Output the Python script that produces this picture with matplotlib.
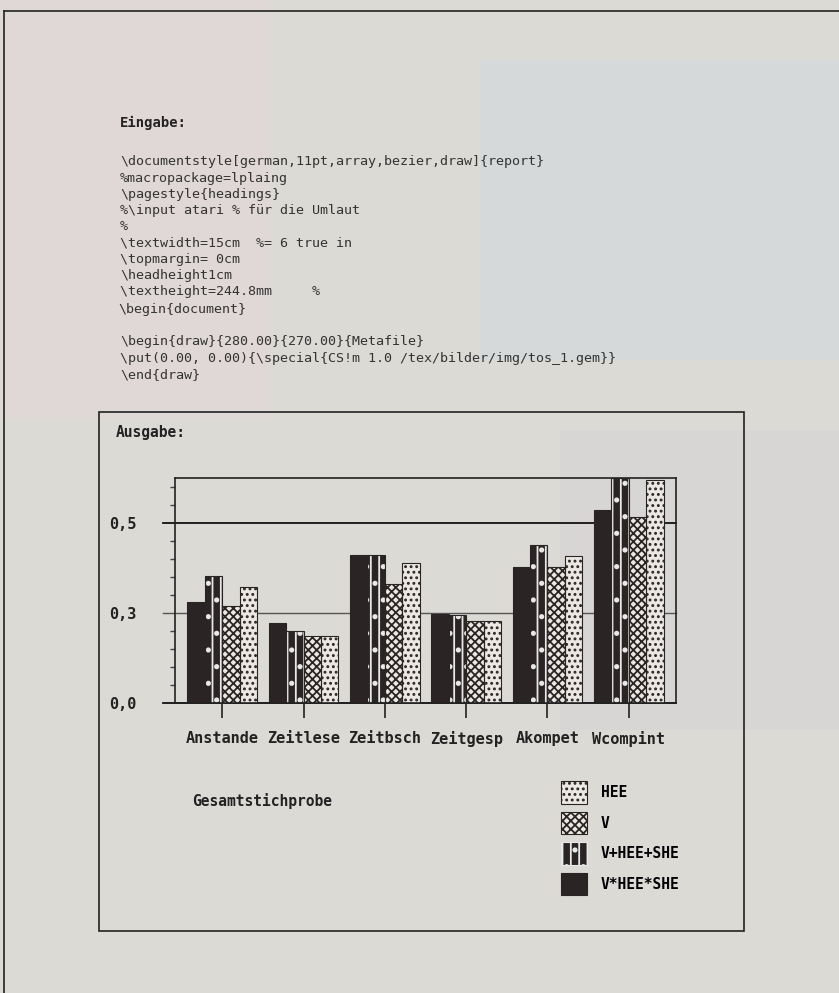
import matplotlib.pyplot as plt
import matplotlib.patches as mpatches
import numpy as np

plt.rcParams['hatch.linewidth'] = 1.3

# Daten
kategorien = ['Anstande', 'Zeitlese', 'Zeitbsch', 'Zeitgesp', 'Akompet', 'Wcompint']
v_hee_she_prod = [0.325, 0.277, 0.428, 0.298, 0.403, 0.529]   # V*HEE*SHE
v_hee_she_sum = [0.382, 0.260, 0.428, 0.296, 0.451, 0.600]    # V+HEE+SHE
v_werte = [0.316, 0.250, 0.364, 0.282, 0.403, 0.513]          # V
hee_werte = [0.357, 0.250, 0.412, 0.282, 0.427, 0.596]        # HEE
serien_namen = ['V*HEE*SHE', 'V+HEE+SHE', 'V', 'HEE']

y_ticks = [0.1, 0.3, 0.5]
y_labels = ['0,0', '0,3', '0,5']

code_zeilen = [
    r'\documentstyle[german,11pt,array,bezier,draw]{report}',
    r'%macropackage=lplaing',
    r'\pagestyle{headings}',
    r'%\input atari % für die Umlaut',
    r'%',
    r'\textwidth=15cm  %= 6 true in',
    r'\topmargin= 0cm',
    r'\headheight1cm',
    r'\textheight=244.8mm     %',
]
code_zeilen2 = [
    r'\begin{draw}{280.00}{270.00}{Metafile}',
    r'\put(0.00, 0.00){\special{CS!m 1.0 /tex/bilder/img/tos_1.gem}}',
    r'\end{draw}',
]

W, H = 839, 993
dunkel = '#2b2424'
hell = '#ebe8e3'
mono = 'DejaVu Sans Mono'

fig = plt.figure(figsize=(W / 100, H / 100), dpi=100)
fig.patch.set_facecolor('#dcdad5')

# Seite (Pixelkoordinaten)
page = fig.add_axes([0, 0, 1, 1])
page.set_xlim(0, W)
page.set_ylim(H, 0)
page.axis('off')
page.add_patch(mpatches.Rectangle((0, 0), 270, 420, color='#e4d8d8', alpha=0.6, lw=0))
page.add_patch(mpatches.Rectangle((480, 60), 359, 300, color='#d2d9df', alpha=0.6, lw=0))
page.add_patch(mpatches.Rectangle((560, 430), 279, 300, color='#d6d3d6', alpha=0.5, lw=0))
page.plot([4, W], [11, 11], color='#222', lw=1.2)
page.plot([4, 4], [11, H], color='#222', lw=1.2)
page.add_patch(mpatches.Rectangle((99, 412), 645, 519, fill=False, ec='#222', lw=1.2))

page.text(120, 123, 'Eingabe:', family=mono, weight='bold', fontsize=10, va='center', color='#222')
for i, z in enumerate(code_zeilen):
    page.text(120, 162 + i * 16.2, z, family=mono, fontsize=9.6, va='center', color='#333')
page.text(118, 310, r'\begin{document}', family=mono, fontsize=9.6, va='center', color='#333')
for i, z in enumerate(code_zeilen2):
    page.text(120, 342 + i * 16.2, z, family=mono, fontsize=9.6, va='center', color='#333')

page.text(116, 433, 'Ausgabe:', family=mono, weight='bold', fontsize=10.5, va='center', color='#222')
page.text(192, 801, 'Gesamtstichprobe', family=mono, weight='bold', fontsize=10.5, va='center', color='#222')

# Diagramm
ax = fig.add_axes([175 / W, 1 - 703 / H, 501 / W, 225 / H])
ax.patch.set_alpha(0)
x = np.arange(len(kategorien))
w = 0.215

ax.axhline(0.5, xmin=-0.024, xmax=1, color='#111', lw=1.3, clip_on=False, zorder=1)
ax.axhline(0.3, xmin=-0.024, xmax=1, color='#555', lw=1.0, clip_on=False, zorder=1)
ax.axhline(0.1, xmin=-0.024, xmax=1, color='#111', lw=1.3, clip_on=False, zorder=1)

b1 = ax.bar(x - 1.5 * w, v_hee_she_prod, w, color=dunkel, edgecolor=dunkel, lw=0.8, zorder=2)
b2 = ax.bar(x - 0.5 * w, v_hee_she_sum, w, color=dunkel, edgecolor='#e8e8e8', hatch='||.', lw=0, zorder=2)
ax.bar(x - 0.5 * w, v_hee_she_sum, w, fill=False, edgecolor=dunkel, lw=0.8, zorder=3)
b3 = ax.bar(x + 0.5 * w, v_werte, w, color=hell, edgecolor=dunkel, hatch='xxxx', lw=0, zorder=2)
ax.bar(x + 0.5 * w, v_werte, w, fill=False, edgecolor=dunkel, lw=0.8, zorder=3)
b4 = ax.bar(x + 1.5 * w, hee_werte, w, color=hell, edgecolor=dunkel, hatch='...', lw=0, zorder=2)
ax.bar(x + 1.5 * w, hee_werte, w, fill=False, edgecolor=dunkel, lw=0.8, zorder=3)

ax.set_xlim(-0.58, 5.58)
ax.set_ylim(0.1, 0.6)
ax.set_xticks(x)
ax.set_xticklabels(kategorien, family=mono, weight='bold', fontsize=11)
ax.set_yticks(y_ticks)
ax.set_yticklabels(y_labels, family=mono, weight='bold', fontsize=11)
ax.set_yticks(np.arange(0.1, 0.6, 0.04), minor=True)
ax.tick_params(axis='x', length=11, width=1.2, pad=9, colors='#222')
ax.tick_params(axis='y', which='major', length=0, pad=28, colors='#222')
ax.tick_params(axis='y', which='minor', length=3.5, width=1.0, colors='#444')
for s in ax.spines.values():
    s.set_linewidth(1.2)
    s.set_color('#222')

leg = fig.legend([b4, b3, b2, b1], serien_namen[::-1], loc='upper left',
                 bbox_to_anchor=(548 / W, 1 - 768 / H), frameon=False,
                 prop={'family': mono, 'weight': 'bold', 'size': 10.5},
                 handlelength=1.8, handleheight=2.0, labelspacing=0.55, handletextpad=0.9)
for h in leg.legend_handles:
    h.set_linewidth(0.8)

plt.savefig('out.png', dpi=100)
